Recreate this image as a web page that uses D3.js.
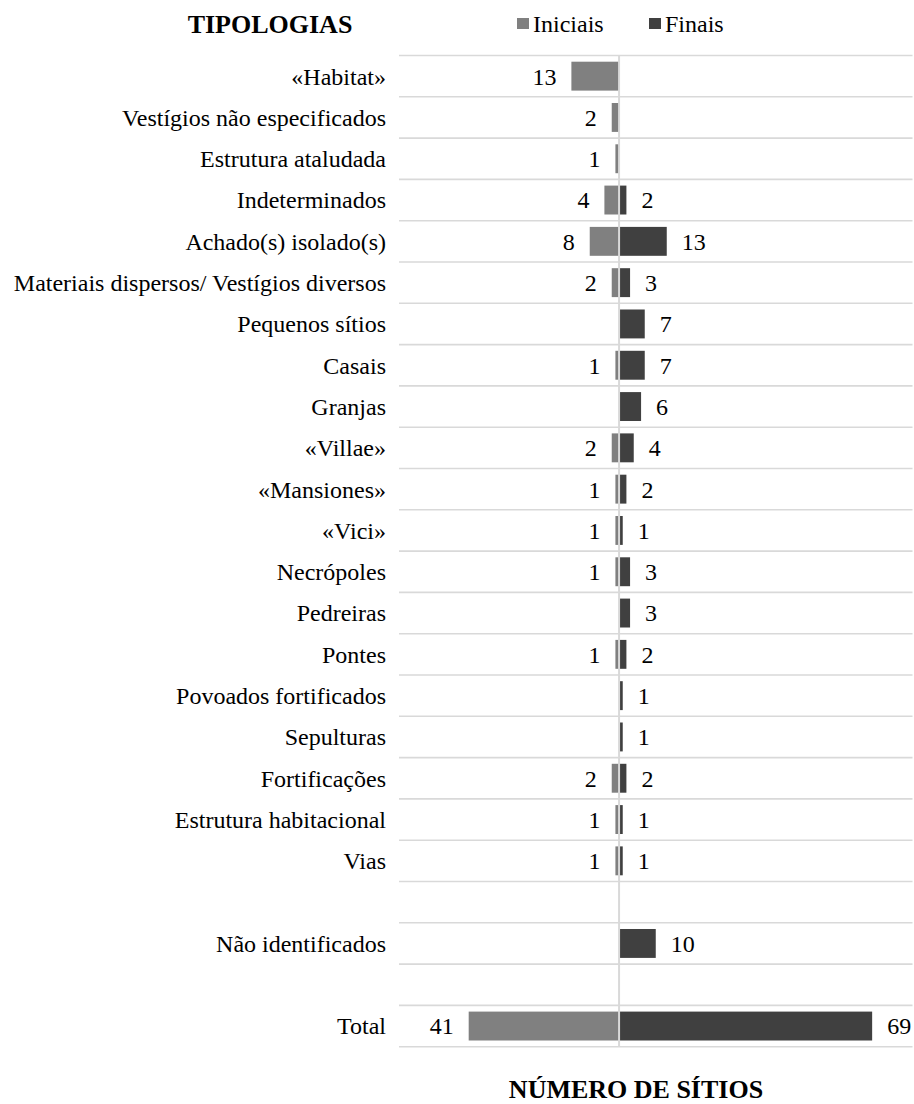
<!DOCTYPE html>
<html><head><meta charset="utf-8">
<script src="https://cdn.jsdelivr.net/npm/d3@7"></script>
<style>body{margin:0;background:#fff}svg{display:block}</style>
</head><body>
<script>
const categories = ["«Habitat»","Vestígios não especificados","Estrutura ataludada","Indeterminados","Achado(s) isolado(s)","Materiais dispersos/ Vestígios diversos","Pequenos sítios","Casais","Granjas","«Villae»","«Mansiones»","«Vici»","Necrópoles","Pedreiras","Pontes","Povoados fortificados","Sepulturas","Fortificações","Estrutura habitacional","Vias","","Não identificados","","Total"];
const iniciais = [13,2,1,4,8,2,0,1,0,2,1,1,1,0,1,0,0,2,1,1,0,0,0,41];
const finais   = [0,0,0,2,13,3,7,7,6,4,2,1,3,3,2,1,1,2,1,1,0,10,0,69];
const seriesNames = ["Iniciais","Finais"];
const colors = ["#808080","#404040"];
const xDomain = [-60, 80];

const FONT = '"Liberation Serif", "Times New Roman", serif';
const W = 914, H = 1104;
const svg = d3.select("body").append("svg").attr("width", W).attr("height", H);

const x = d3.scaleLinear().domain(xDomain).range([399, 912.5]);
const idx = categories.map((d,i)=>i);
const yTop = 55.5, yBot = 1046.7;
const y = d3.scaleBand().domain(idx).range([yTop, yBot]).paddingInner(0.3).paddingOuter(0.15);
const step = y.step();

// gridlines
const gl = d3.range(categories.length + 1).map(i => yTop + i*step);
svg.append("g").selectAll("line").data(gl).join("line")
  .attr("x1", x.range()[0]).attr("x2", x.range()[1])
  .attr("y1", d=>d).attr("y2", d=>d)
  .attr("stroke", "#d9d9d9").attr("stroke-width", 1.6);

// bars
const g = svg.append("g");
g.selectAll("rect.ini").data(idx.filter(i=>iniciais[i]>0)).join("rect")
  .attr("x", i=>x(-iniciais[i])).attr("width", i=>x(0)-x(-iniciais[i]))
  .attr("y", i=>y(i)).attr("height", y.bandwidth()).attr("fill", colors[0]);
g.selectAll("rect.fin").data(idx.filter(i=>finais[i]>0)).join("rect")
  .attr("x", x(0)).attr("width", i=>x(finais[i])-x(0))
  .attr("y", i=>y(i)).attr("height", y.bandwidth()).attr("fill", colors[1]);

// center axis line
svg.append("line").attr("x1", x(0)).attr("x2", x(0)).attr("y1", yTop).attr("y2", yBot)
  .attr("stroke", "#d9d9d9").attr("stroke-width", 2);

// category labels
svg.append("g").selectAll("text").data(idx).join("text")
  .attr("x", 386).attr("y", i=>y(i)+y.bandwidth()/2).attr("dy","0.35em")
  .attr("text-anchor","end").attr("font-size", 24).attr("fill","#000")
  .style("font-family", FONT)
  .text(i=>categories[i]);

// value labels
svg.append("g").selectAll("text").data(idx.filter(i=>iniciais[i]>0)).join("text")
  .attr("x", i=>x(-iniciais[i]) - 15).attr("y", i=>y(i)+y.bandwidth()/2).attr("dy","0.35em")
  .attr("text-anchor","end").attr("font-size", 24).style("font-family", FONT).text(i=>iniciais[i]);
svg.append("g").selectAll("text").data(idx.filter(i=>finais[i]>0)).join("text")
  .attr("x", i=>x(finais[i]) + 15).attr("y", i=>y(i)+y.bandwidth()/2).attr("dy","0.35em")
  .attr("text-anchor","start").attr("font-size", 24).style("font-family", FONT).text(i=>finais[i]);

// titles
svg.append("text").attr("x", 270).attr("y", 33).attr("text-anchor","middle")
  .attr("font-size", 26).attr("font-weight","bold").style("font-family", FONT).text("TIPOLOGIAS");
svg.append("text").attr("x", 636).attr("y", 1098).attr("text-anchor","middle")
  .attr("font-size", 26).attr("font-weight","bold").style("font-family", FONT).text("NÚMERO DE SÍTIOS");

// legend
const leg = svg.append("g");
const legX = [517, 649];
seriesNames.forEach((s,k)=>{
  leg.append("rect").attr("x", legX[k]).attr("y", 18).attr("width", 12).attr("height", 11).attr("fill", colors[k]);
  leg.append("text").attr("x", legX[k]+16).attr("y", 32).attr("font-size", 24)
    .style("font-family", FONT).text(s);
});
</script>
</body></html>
